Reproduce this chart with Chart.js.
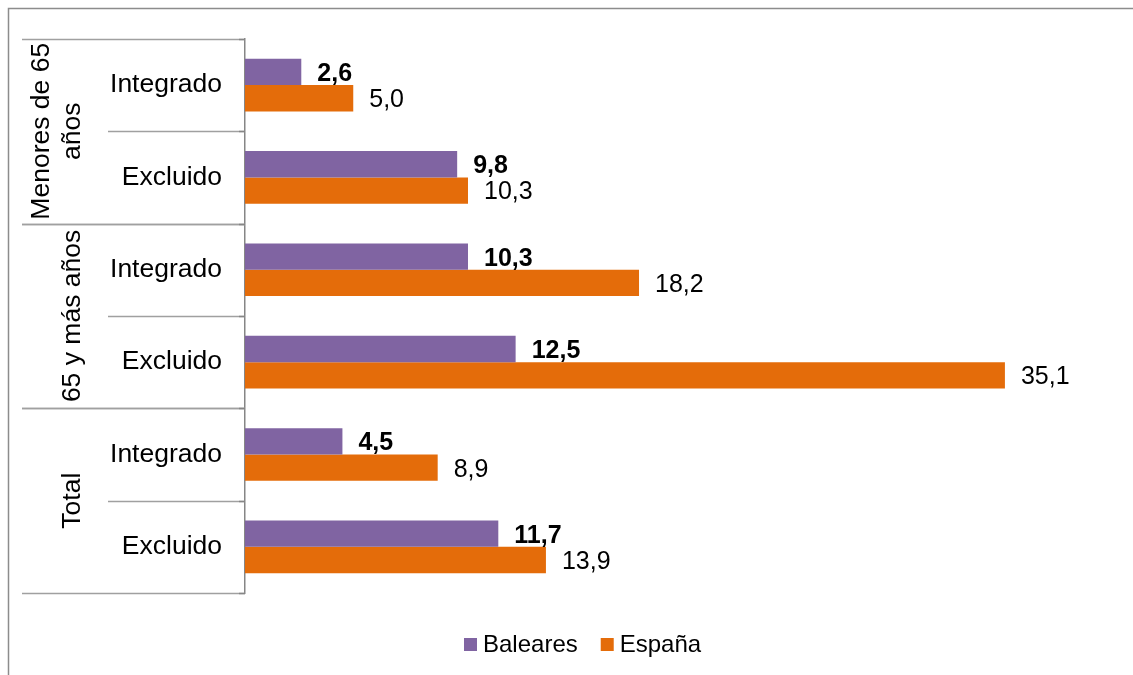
<!DOCTYPE html>
<html>
<head>
<meta charset="utf-8">
<script src="https://cdn.jsdelivr.net/npm/chart.js@4.4.1/dist/chart.umd.min.js"></script>
<style>
  html, body { margin: 0; padding: 0; background: #fff; }
  #wrap { width: 1133px; height: 675px; }
</style>
</head>
<body>
<div id="wrap"><canvas id="chart" width="1133" height="675"></canvas></div>
<script>
// Row labels (inner level) and their outer groups
var categories = ['Integrado', 'Excluido', 'Integrado', 'Excluido', 'Integrado', 'Excluido'];
var groupLabels = [['Menores de 65', 'años'], ['65 y más años'], ['Total']];
var groupSizes = [2, 2, 2];

// Series values (%)
var baleares = [2.6, 9.8, 10.3, 12.5, 4.5, 11.7];
var espana = [5.0, 10.3, 18.2, 35.1, 8.9, 13.9];

var FONT = 'Arial, "Liberation Sans", sans-serif';

function fmt(v) {
  return v.toFixed(1).replace('.', ',');
}

// Draws the frame, the two-level axis separators and the group labels
var axisDecor = {
  id: 'axisDecor',
  beforeDraw: function(chart) {
    var ctx = chart.ctx;
    ctx.save();
    ctx.strokeStyle = '#8c8c8c';
    ctx.lineWidth = 1.5;
    ctx.strokeRect(8.5, 8.5, 1200, 800);
    ctx.restore();
  },
  afterDraw: function(chart) {
    var ctx = chart.ctx;
    var y = chart.scales.y;
    var left = chart.chartArea.left;
    ctx.save();
    ctx.strokeStyle = '#a0a0a0';
    ctx.lineWidth = 1.5;

    var idx = 0;
    groupSizes.forEach(function(size, g) {
      var top = y.getPixelForValue(idx - 0.5);
      var bottom = y.getPixelForValue(idx + size - 0.5);
      // outer separators
      [top, bottom].forEach(function(py) {
        ctx.beginPath();
        ctx.moveTo(22, Math.round(py) + 0.5);
        ctx.lineTo(left, Math.round(py) + 0.5);
        ctx.stroke();
      });
      // inner separators
      for (var k = 1; k < size; k++) {
        var py = y.getPixelForValue(idx + k - 0.5);
        ctx.beginPath();
        ctx.moveTo(108, Math.round(py) + 0.5);
        ctx.lineTo(left, Math.round(py) + 0.5);
        ctx.stroke();
      }
      // group label, rotated
      var lines = groupLabels[g];
      var cy = (top + bottom) / 2;
      ctx.fillStyle = '#000';
      ctx.font = '26.5px ' + FONT;
      ctx.textAlign = 'center';
      ctx.textBaseline = 'alphabetic';
      lines.forEach(function(txt, li) {
        var bx = 80 - (lines.length - 1 - li) * 31;
        ctx.save();
        ctx.translate(bx, cy);
        ctx.rotate(-Math.PI / 2);
        ctx.fillText(txt, 0, 0);
        ctx.restore();
      });
      idx += size;
    });

    // small tick marks on the axis
    ctx.strokeStyle = '#868686';
    for (var i = 0; i <= categories.length; i++) {
      var ty = Math.round(y.getPixelForValue(i - 0.5)) + 0.5;
      ctx.beginPath();
      ctx.moveTo(left - 6, ty);
      ctx.lineTo(left, ty);
      ctx.stroke();
    }
    ctx.restore();
  }
};

// Value labels next to the bars
var barLabels = {
  id: 'barLabels',
  afterDatasetsDraw: function(chart) {
    var ctx = chart.ctx;
    ctx.save();
    ctx.fillStyle = '#000';
    ctx.textAlign = 'left';
    ctx.textBaseline = 'middle';
    chart.data.datasets.forEach(function(ds, di) {
      var meta = chart.getDatasetMeta(di);
      ctx.font = (di === 0 ? 'bold ' : '') + '25px ' + FONT;
      meta.data.forEach(function(bar, i) {
        ctx.fillText(fmt(ds.data[i]), bar.x + 16, bar.y + 2);
      });
    });
    ctx.restore();
  }
};

// Legend at the bottom, drawn by hand to match spacing
var bottomLegend = {
  id: 'bottomLegend',
  afterDraw: function(chart) {
    var ctx = chart.ctx;
    ctx.save();
    ctx.font = '24px ' + FONT;
    ctx.textBaseline = 'middle';
    ctx.textAlign = 'left';
    var box = 13, gap = 6, between = 23, cy = 644;
    var x = 464;
    chart.data.datasets.forEach(function(ds) {
      ctx.fillStyle = ds.backgroundColor;
      ctx.fillRect(x, cy - 6, box, box);
      ctx.fillStyle = '#000';
      ctx.fillText(ds.label, x + box + gap, cy + 1);
      x += box + gap + ctx.measureText(ds.label).width + between;
    });
    ctx.restore();
  }
};

new Chart(document.getElementById('chart'), {
  type: 'bar',
  data: {
    labels: categories,
    datasets: [
      { label: 'Baleares', data: baleares, backgroundColor: '#8064A2' },
      { label: 'España', data: espana, backgroundColor: '#E46C0A' }
    ]
  },
  options: {
    indexAxis: 'y',
    responsive: false,
    animation: false,
    layout: { padding: { top: 37, bottom: 82, left: 0, right: 22 } },
    datasets: { bar: { categoryPercentage: 0.57, barPercentage: 1.0 } },
    plugins: {
      legend: { display: false },
      tooltip: { enabled: false }
    },
    scales: {
      x: { min: 0, max: 40, display: false },
      y: {
        afterFit: function(scale) { scale.width = 245; },
        grid: { display: false, drawTicks: false },
        border: { display: true, color: '#868686', width: 1.5 },
        ticks: { color: '#000', padding: 23, font: { family: FONT, size: 26.5 } }
      }
    }
  },
  plugins: [axisDecor, barLabels, bottomLegend]
});
</script>
</body>
</html>
